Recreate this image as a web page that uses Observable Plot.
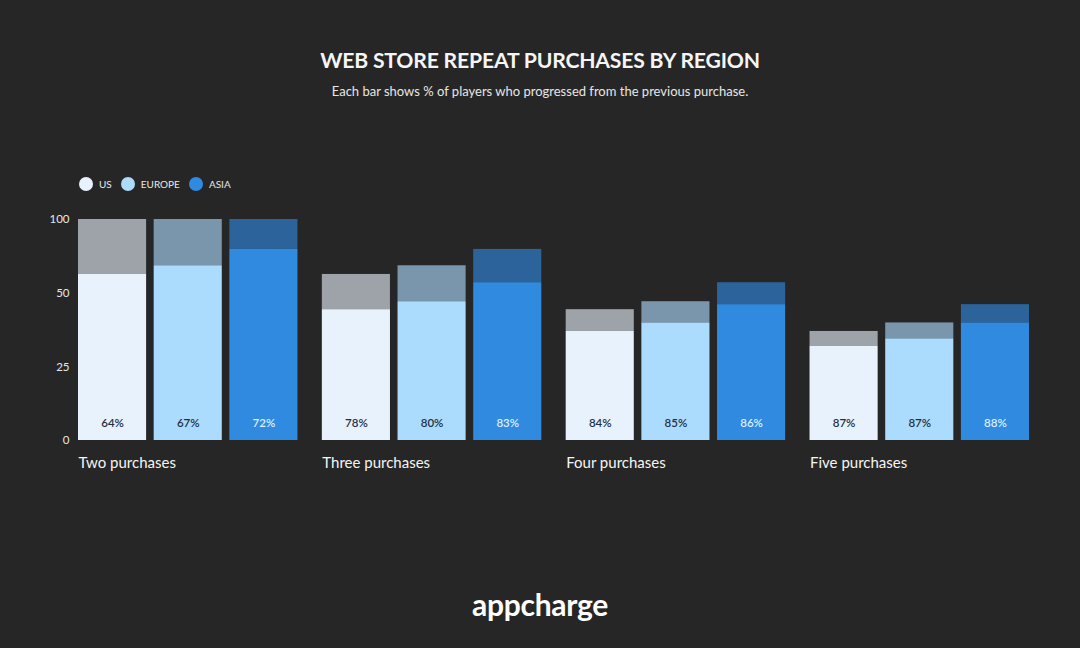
<!DOCTYPE html>
<html>
<head>
<meta charset="utf-8">
<script src="https://cdn.jsdelivr.net/npm/d3@7"></script>
<script src="https://cdn.jsdelivr.net/npm/@observablehq/plot@0.6"></script>
<style>
  html, body { margin: 0; padding: 0; background: #262626; }
  body { width: 1080px; height: 648px; position: relative; overflow: hidden; font-family: "Lato", "Inter", sans-serif; color: #f2f2f2; }
  .title { position: absolute; left: 0; width: 1080px; top: 60px; transform: translateY(-50%); text-align: center; font-size: 21.2px; font-weight: 700; letter-spacing: -0.2px; color: #f5f5f5; }
  .subtitle { position: absolute; left: 0; width: 1080px; top: 91px; transform: translateY(-50%); text-align: center; font-size: 13px; color: #e6e6e6; }
  .legend { position: absolute; left: 79px; top: 184px; transform: translateY(-50%); display: flex; align-items: center; font-size: 10px; color: #e8e8e8; }
  .legend span.dot { width: 14px; height: 14px; border-radius: 50%; display: inline-block; margin-right: 6px; }
  .legend span.lab { margin-right: 9px; }
  #chart { position: absolute; left: 0; top: 200px; }
  .logo { position: absolute; left: 0; width: 1080px; top: 604px; transform: translateY(-50%); text-align: center; font-size: 30px; font-weight: 700; letter-spacing: -0.3px; color: #ffffff; }
</style>
</head>
<body>
<div class="title">WEB STORE REPEAT PURCHASES BY REGION</div>
<div class="subtitle">Each bar shows % of players who progressed from the previous purchase.</div>
<div class="legend" id="legend"></div>
<div id="chart"></div>
<div class="logo">appcharge</div>
<script>
// ---- data (values read against the chart's y axis) ----
const groups = ["Two purchases", "Three purchases", "Four purchases", "Five purchases"];
const regions = ["US", "EUROPE", "ASIA"];

const usTotal = [100, 62.7, 44.4, 37.0];
const usProgressed = [62.7, 44.4, 37.0, 31.9];
const usPct = [64, 78, 84, 87];

const europeTotal = [100, 68.6, 47.1, 39.9];
const europeProgressed = [68.6, 47.1, 39.9, 34.5];
const europePct = [67, 80, 85, 87];

const asiaTotal = [100, 79.7, 57.1, 46.1];
const asiaProgressed = [79.7, 57.1, 46.1, 39.9];
const asiaPct = [72, 83, 86, 88];

const yTicks = [0, 25, 50, 100];

// ---- styling ----
const progressedColor = {US: "#e7f2fd", EUROPE: "#acdcfd", ASIA: "#308ae0"};
const remainderColor = {US: "#9ea3a9", EUROPE: "#7996ad", ASIA: "#2d639b"};
const pctColor = {US: "#1e2f47", EUROPE: "#1e2f47", ASIA: "#dcefff"};

const series = {
  US: [usTotal, usProgressed, usPct],
  EUROPE: [europeTotal, europeProgressed, europePct],
  ASIA: [asiaTotal, asiaProgressed, asiaPct]
};
const rows = [];
groups.forEach((g, i) => {
  regions.forEach(r => {
    const [t, p, c] = series[r];
    rows.push({group: g, region: r, total: t[i], progressed: p[i], pct: c[i]});
  });
});

// legend
const legend = document.getElementById("legend");
regions.forEach(r => {
  const dot = document.createElement("span");
  dot.className = "dot";
  dot.style.background = progressedColor[r];
  const lab = document.createElement("span");
  lab.className = "lab";
  lab.textContent = r;
  legend.appendChild(dot);
  legend.appendChild(lab);
});

// the axis is evenly spaced at 0, 25, 50, 100: above 50 the scale is compressed by half
const axisTransform = v => (v <= 50 ? v : 50 + (v - 50) / 2);

const chart = Plot.plot({
  width: 1080,
  height: 300,
  marginLeft: 78,
  marginRight: 51,
  marginTop: 19,
  marginBottom: 60,
  style: {background: "transparent", fontFamily: "Lato, Inter, sans-serif"},
  fx: {domain: groups, paddingInner: 0.1, paddingOuter: 0, round: false, axis: null, label: null},
  x: {domain: regions, paddingInner: 0.1, paddingOuter: 0, round: false, axis: null, label: null},
  y: {transform: axisTransform, axis: null, label: null},
  marks: [
    Plot.axisY(yTicks, {tickSize: 0, tickPadding: 9, fontSize: 11.5, fill: "#e6e6e6", label: null, tickFormat: d => String(d)}),
    Plot.barY(rows, {fx: "group", x: "region", y1: "progressed", y2: "total", fill: d => remainderColor[d.region]}),
    Plot.barY(rows, {fx: "group", x: "region", y1: 0, y2: "progressed", fill: d => progressedColor[d.region]}),
    Plot.text(rows, {fx: "group", x: "region", y: 0, dy: -17, text: d => d.pct + "%", fill: d => pctColor[d.region], fontSize: 11.5, fontWeight: 600}),
    Plot.text(groups, {fx: d => d, text: d => d, frameAnchor: "bottom-left", lineAnchor: "middle", textAnchor: "start", dx: 0, dy: 23, fill: "#f5f5f5", fontSize: 15})
  ]
});
document.getElementById("chart").appendChild(chart);
</script>
</body>
</html>
